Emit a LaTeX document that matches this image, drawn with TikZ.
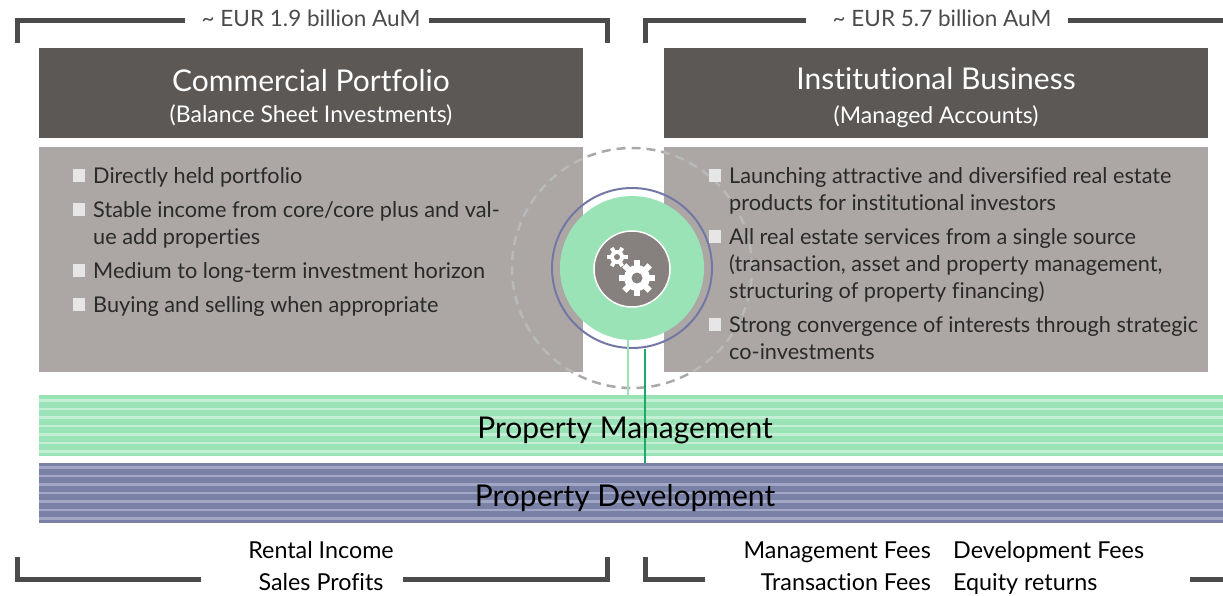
\documentclass[tikz,border=0pt]{standalone}
\usepackage{fontspec}
\setmainfont{Lato}[Ligatures=NoCommon]
\usetikzlibrary{positioning,calc}

\definecolor{bracketc}{HTML}{4B4B4B}
\definecolor{headc}{HTML}{5B5856}
\definecolor{bodyc}{HTML}{ACA7A5}
\definecolor{bulc}{HTML}{E6E6E6}
\definecolor{mintc}{HTML}{9AE3B6}
\definecolor{mintlt}{HTML}{C4EFD4}
\definecolor{navyc}{HTML}{7A81A7}
\definecolor{navylt}{HTML}{A2A7C5}
\definecolor{ringc}{HTML}{7178A6}
\definecolor{orbitc}{HTML}{A9A9A9}
\definecolor{orbitlt}{HTML}{B9B9B9}
\definecolor{corec}{HTML}{86817F}
\definecolor{greendk}{HTML}{1DA86C}
\definecolor{textc}{HTML}{2A2A2A}

\begin{document}
\begin{tikzpicture}[x=1pt,y=-1pt,
    bracket/.style={draw=bracketc, line width=5pt},
    headbox/.style={fill=headc, anchor=north west, inner sep=0pt, minimum width=544pt, minimum height=90pt},
    bodybox/.style={fill=bodyc, anchor=north west, inner sep=0pt, minimum width=544pt, minimum height=225pt},
    bar/.style={anchor=north west, inner sep=0pt, minimum width=1184pt},
    title/.style={anchor=base, inner sep=0pt, text=white, font=\fontsize{30}{34}\selectfont},
    subtitle/.style={anchor=base, inner sep=0pt, text=white, font=\fontsize{23}{27}\selectfont},
    aum/.style={anchor=base, inner sep=0pt, text=bracketc, font=\fontsize{22.5}{26}\selectfont},
    sq/.style={fill=bulc, inner sep=0pt, minimum width=12pt, minimum height=13pt},
    item/.style={anchor=base west, inner sep=0pt, align=left, text=textc, font=\fontsize{21.7}{27}\selectfont},
    orbitline/.style={circle, line width=2.5pt, dash pattern=on 9pt off 6pt, minimum size=240pt},
    barlabel/.style={anchor=base, inner sep=0pt, text=black, font=\fontsize{30}{34}\selectfont},
    income/.style={inner sep=0pt, text=black, font=\fontsize{23.3}{32}\selectfont}
]
\useasboundingbox (0,0) rectangle (1223,595);

% top brackets
\node[aum] (aumCP) at (311,26) {\textasciitilde{} EUR 1.9 billion AuM};
\node[aum] (aumIB) at (942,26) {\textasciitilde{} EUR 5.7 billion AuM};
\draw[bracket] (17,43) |- (185,20);
\draw[bracket] (429,20) -| (607,43);
\draw[bracket] (645,43) |- (806,20);
\draw[bracket] (1068,20) -- (1223,20);

% the two business lines
\node[headbox] (cpHead) at (39,48) {};
\node[headbox] (ibHead) at (664,48) {};
\node[bodybox] (cpBody) at (39,147) {};
\node[bodybox] (ibBody) at (664,147) {};

\node[title] (cpTitle) at (311,91) {Commercial Portfolio};
\node[subtitle] (cpSub) at (311,122) {(Balance Sheet Investments)};
\node[title] (ibTitle) at (936,89) {Institutional Business};
\node[subtitle] (ibSub) at (936,123) {(Managed Accounts)};

% dashed orbit sits behind the lists, a bit lighter over the boxes
\node[orbitline, draw=orbitc] (orbit) at (632,268) {};
\begin{scope}
    \clip (cpBody.south west) rectangle (cpBody.north east)
          (ibBody.south west) rectangle (ibBody.north east);
    \node[orbitline, draw=orbitlt] (orbitOnBox) at (632,268) {};
\end{scope}

% bullet lists (node base = last line, hence the shift)
\foreach \yb/\nl/\txt [count=\i] in {183/0/Directly held portfolio,
    217/1/{Stable income from core/core plus and val-\\ue add properties},
    278/0/Medium to long-term investment horizon,
    312/0/Buying and selling when appropriate}
{
    \node[sq] (cpSq\i) at (79,\yb-7.5) {};
    \node[item] (cpItem\i) at (93,\yb+27*\nl) {\txt};
}

\foreach \yb/\nl/\txt [count=\i] in {183/1/{Launching attractive and diversified real estate\\products for institutional investors},
    244/2/{All real estate services from a single source\\(transaction, asset and property management,\\structuring of property financing)},
    332/1/{Strong convergence of interests through strategic\\co-investments}}
{
    \node[sq] (ibSq\i) at (715,\yb-7.5) {};
    \node[item] (ibItem\i) at (729,\yb+27*\nl) {\txt};
}

% hub
\node[circle, draw=ringc, line width=2pt, minimum size=160pt] (ring) at (632,268) {};
\node[circle, fill=mintc, minimum size=144pt] (hub) at (632,268) {};
\node[circle, fill=corec, draw=white, line width=1.5pt, minimum size=76pt] (core) at (632,269) {};

% gears
\fill[white] (637,278) circle (13);
\foreach \a in {0,45,...,315}
    \fill[white, rotate around={\a:(637,278)}] (634,278) rectangle (640,260);
\fill[corec] (637,278) circle (5.5);
\fill[white] (617,257) circle (7);
\foreach \a in {30,90,...,330}
    \fill[white, rotate around={\a:(617,257)}] (615,257) rectangle (619,246.5);
\fill[corec] (617,257) circle (3);

% service bars
\node[bar, fill=mintc, minimum height=61pt] (mgmt) at (39,395) {};
\foreach \k in {0,...,6}
    \draw[mintlt, line width=2.5pt] (39,400.5+8.5*\k) -- (1223,400.5+8.5*\k);
\node[bar, fill=navyc, minimum height=60pt] (dev) at (39,463) {};
\foreach \k in {0,...,6}
    \draw[navylt, line width=2.5pt] (39,467.5+8.5*\k) -- (1223,467.5+8.5*\k);

\draw[mintc, line width=2pt] ([xshift=-4pt]hub.south) -- ([xshift=-4pt]hub.south |- mgmt.north);
\draw[greendk, line width=2pt] ([xshift=13pt]ring.south) -- ([xshift=13pt]ring.south |- dev.north);

\node[barlabel] (mgmtLabel) at (625,438) {Property Management};
\node[barlabel] (devLabel) at (625,506) {Property Development};

% income
\node[income, anchor=base, align=center] (cpIncome) at (321,590) {Rental Income\\Sales Profits};
\node[income, anchor=base east, align=right] (ibFees) at (931,590) {Management Fees\\Transaction Fees};
\node[income, anchor=base west, align=left] (ibReturns) at (953,590) {Development Fees\\Equity returns};

% bottom brackets
\draw[bracket] (17,557) |- (201,579);
\draw[bracket] (403,579) -| (607,557);
\draw[bracket] (645,557) |- (705,579);
\draw[bracket] (1190,579) -- (1223,579);
\end{tikzpicture}
\end{document}
